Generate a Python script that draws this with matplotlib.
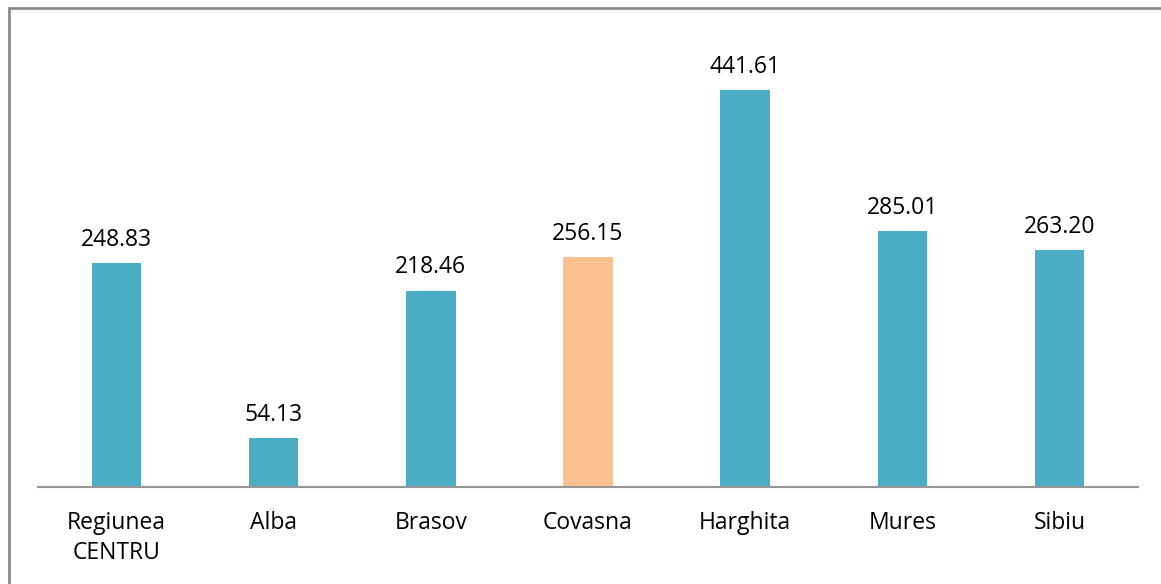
import matplotlib
matplotlib.use("Agg")
import matplotlib.pyplot as plt
from matplotlib.patches import Rectangle

plt.rcParams["font.family"] = ["Open Sans", "DejaVu Sans"]

# data
categories = ["Regiunea\nCENTRU", "Alba", "Brasov", "Covasna", "Harghita", "Mures", "Sibiu"]
values = [248.83, 54.13, 218.46, 256.15, 441.61, 285.01, 263.20]
highlight = "Covasna"

TEAL = "#4BACC6"
PEACH = "#FAC090"

W, H = 1161, 584
fig = plt.figure(figsize=(W / 100, H / 100), dpi=100)

# outer frame (cut off at right/bottom edges like the source)
fig.patches.append(Rectangle((8.5 / W, -0.1), 1.2, 1 - 8.5 / H + 0.1,
                             transform=fig.transFigure, fill=False,
                             edgecolor="#8c8c8c", linewidth=2))

ax = fig.add_axes([38 / W, (H - 487) / H, 1100 / W, (487 - 37.5) / H])

colors = [PEACH if c == highlight else TEAL for c in categories]
x = range(len(categories))
bars = ax.bar(x, values, width=0.315, color=colors)

for b, v in zip(bars, values):
    ax.annotate(f"{v:.2f}", (b.get_x() + b.get_width() / 2, v),
                xytext=(0, 8), textcoords="offset points",
                ha="center", va="bottom", fontsize=16.5)

ax.set_xlim(-0.5, len(categories) - 0.5)
ax.set_ylim(0, 500)
ax.set_xticks(list(x))
ax.set_xticklabels(categories, fontsize=16.5, linespacing=1.38)
ax.tick_params(axis="x", length=0, pad=17)
ax.set_yticks([])
for s in ["top", "right", "left"]:
    ax.spines[s].set_visible(False)
ax.spines["bottom"].set_color("#969696")
ax.spines["bottom"].set_linewidth(1.5)

fig.savefig("out.png", dpi=100)
